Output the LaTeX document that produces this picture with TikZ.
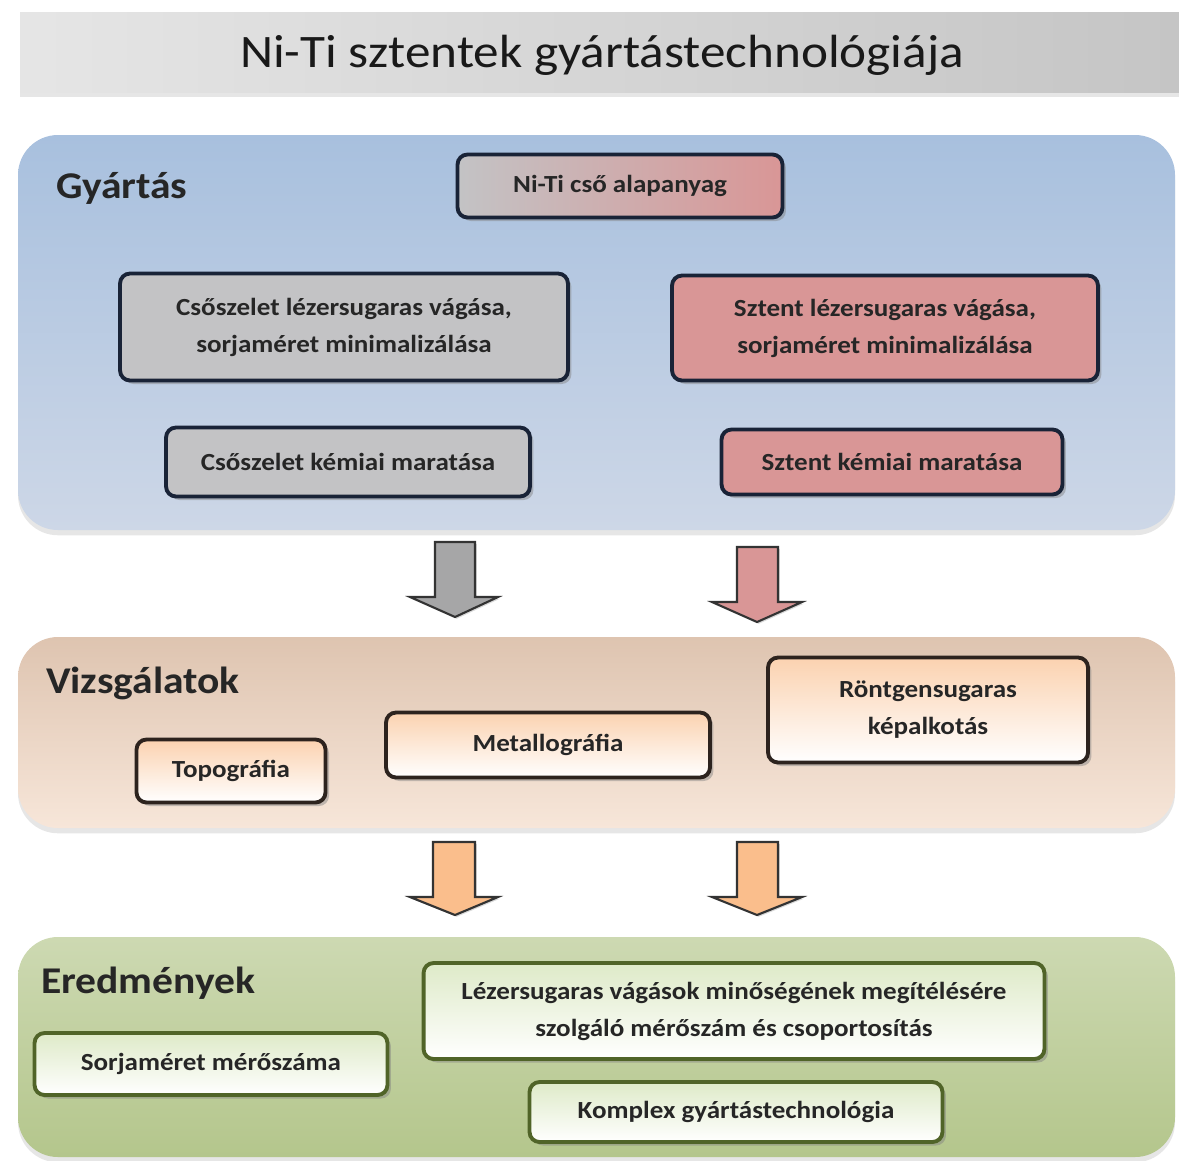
\documentclass[tikz,border=0pt]{standalone}
\usepackage{fontspec}
\setmainfont{Carlito}
\newfontfamily\boxfont{Carlito}[FakeStretch=1.1]
\usetikzlibrary{shadows}

\begin{document}
\begin{tikzpicture}[x=0.02cm, y=-0.02cm,
  panel/.style={rounded corners=0.8cm, drop shadow={opacity=0.2, shadow xshift=0pt, shadow yshift=-3pt}},
  paneltitle/.style={anchor=west, font=\boxfont\fontsize{21.5}{26}\selectfont\bfseries, text=black!85},
  box/.style={rounded corners=0.2cm, line width=2.2pt, align=center, inner sep=0pt,
    font=\boxfont\fontsize{14}{21}\selectfont\bfseries, text=black!85,
    drop shadow={opacity=0.45, shadow xshift=2pt, shadow yshift=-2pt}},
  gybox/.style={box, draw=navy},
  vzbox/.style={box, draw=brownline, top color=peach, bottom color=white},
  erbox/.style={box, draw=olive, top color=lightgreen, bottom color=white},
  blockarrow/.style={draw=black!80, line width=1.2pt, line join=miter,
    drop shadow={opacity=0.3, shadow xshift=1pt, shadow yshift=-1pt}}]

\definecolor{gytop}{RGB}{168, 192, 222}
\definecolor{gybottom}{RGB}{205, 215, 231}
\definecolor{szurke}{RGB}{195, 195, 197}
\definecolor{rozsa}{RGB}{217, 150, 150}
\definecolor{navy}{RGB}{25, 35, 55}
\definecolor{vztop}{RGB}{222, 196, 176}
\definecolor{vzbottom}{RGB}{247, 230, 217}
\definecolor{peach}{RGB}{251, 210, 176}
\definecolor{brownline}{RGB}{45, 35, 30}
\definecolor{ertop}{RGB}{205, 217, 178}
\definecolor{erbottom}{RGB}{180, 198, 140}
\definecolor{olive}{RGB}{80, 100, 40}
\definecolor{lightgreen}{RGB}{222, 234, 200}
\definecolor{narancs}{RGB}{250, 190, 140}

\useasboundingbox (0, 0) rectangle (1179, 1160);
\clip (0, 0) rectangle (1179, 1160);

% title bar
\shade[left color=black!10, right color=black!23, drop shadow={opacity=0.2, shadow xshift=0pt, shadow yshift=-3pt}]
  (20, 12) rectangle (1200, 92);
\node[font=\boxfont\fontsize{26.5}{32}\selectfont, text=black!90] (title) at (602, 55) {Ni-Ti sztentek gyártástechnológiája};

% Gyártás
\shade[panel, top color=gytop, bottom color=gybottom] (18, 135) rectangle (1175, 530);
\node[paneltitle] (gyartas) at (50, 188) {Gyártás};

\node[gybox, left color=szurke, right color=rozsa, minimum width=6.5cm, minimum height=1.26cm]
  (niti) at (620, 186) {Ni-Ti cső alapanyag};
\node[gybox, fill=szurke, minimum width=8.96cm, minimum height=2.14cm]
  (csovag) at (344, 327) {Csőszelet lézersugaras vágása,\\sorjaméret minimalizálása};
\node[gybox, fill=rozsa, minimum width=8.52cm, minimum height=2.1cm]
  (sztvag) at (885, 328) {Sztent lézersugaras vágása,\\sorjaméret minimalizálása};
\node[gybox, fill=szurke, minimum width=7.28cm, minimum height=1.38cm]
  (csomar) at (348, 462) {Csőszelet kémiai maratása};
\node[gybox, fill=rozsa, minimum width=6.82cm, minimum height=1.3cm]
  (sztmar) at (892, 462) {Sztent kémiai maratása};

% arrows to Vizsgálatok
\draw[blockarrow, fill=szurke!85!black] (435, 542) -- (475, 542) -- (475, 597) -- (498, 597)
  -- (455, 617) -- (410, 597) -- (435, 597) -- cycle;
\draw[blockarrow, fill=rozsa] (737, 547) -- (778, 547) -- (778, 602) -- (802, 602)
  -- (757, 622) -- (712, 602) -- (737, 602) -- cycle;

% Vizsgálatok
\shade[panel, top color=vztop, bottom color=vzbottom] (18, 637) rectangle (1175, 828);
\node[paneltitle] (vizsg) at (40, 683) {Vizsgálatok};

\node[vzbox, minimum width=3.78cm, minimum height=1.26cm] (topo) at (231, 771) {Topográfia};
\node[vzbox, minimum width=6.48cm, minimum height=1.3cm] (metal) at (548, 745) {Metallográfia};
\node[vzbox, minimum width=6.4cm, minimum height=2.1cm] (rontgen) at (928, 710) {Röntgensugaras\\képalkotás};

% arrows to Eredmények
\draw[blockarrow, fill=narancs] (433, 842) -- (475, 842) -- (475, 897) -- (498, 897)
  -- (455, 915) -- (410, 897) -- (433, 897) -- cycle;
\draw[blockarrow, fill=narancs] (737, 842) -- (778, 842) -- (778, 897) -- (802, 897)
  -- (757, 915) -- (712, 897) -- (737, 897) -- cycle;

% Eredmények
\shade[panel, top color=ertop, bottom color=erbottom] (18, 937) rectangle (1175, 1157);
\node[paneltitle] (eredm) at (35, 983) {Eredmények};

\node[erbox, minimum width=7.06cm, minimum height=1.24cm] (sorja) at (211, 1064) {Sorjaméret mérőszáma};
\node[erbox, minimum width=12.42cm, minimum height=1.92cm] (meroszam) at (734, 1011)
  {Lézersugaras vágások minőségének megítélésére\\szolgáló mérőszám és csoportosítás};
\node[erbox, minimum width=8.26cm, minimum height=1.2cm] (komplex) at (736, 1112) {Komplex gyártástechnológia};

\end{tikzpicture}
\end{document}
